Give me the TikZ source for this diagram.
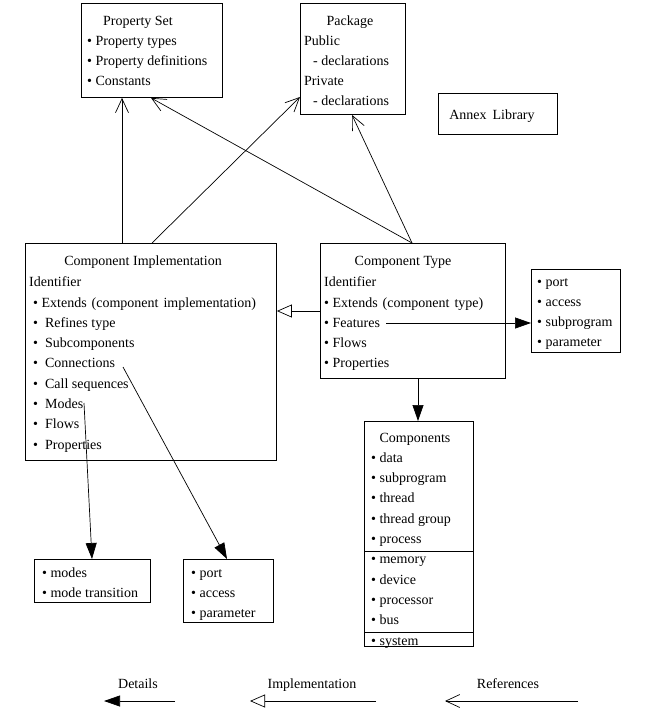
\documentclass[tikz,border=0pt]{standalone}
\usepackage{fontspec}
\setmainfont{Liberation Serif}
\usetikzlibrary{arrows.meta}
\newcommand\bl{\textbullet\ }
\newcommand\bll{\textbullet\hspace{7pt}}
\tikzset{
  box/.style={draw, line width=0.9pt, inner sep=0pt, anchor=north west},
  txt/.style={inner sep=0pt, anchor=base west, font=\fontsize{14}{17}\selectfont},
  ttl/.style={txt, anchor=base},
  ref/.style={-{Straight Barb[length=14pt,width=13pt]}, line width=0.7pt},
  impl/.style={-{Triangle[open,length=15pt,width=13pt]}, line width=0.7pt},
  det/.style={-{Triangle[length=16pt,width=11pt]}, line width=0.7pt}
}
\begin{document}
\begin{tikzpicture}[x=1pt,y=-1pt]
\useasboundingbox (0,0) rectangle (649,720);
% boxes
\node[box, minimum width=141pt, minimum height=94pt] (ps) at (81,3) {};
\node[box, minimum width=105pt, minimum height=111pt] (pkg) at (300,3) {};
\node[box, minimum width=119pt, minimum height=41pt] (annex) at (438,93) {};
\node[box, minimum width=251pt, minimum height=217pt] (ci) at (25,243) {};
\node[box, minimum width=185pt, minimum height=135pt] (ct) at (320,243) {};
\node[box, minimum width=89pt, minimum height=83pt] (feat) at (531,269) {};
\node[box, minimum width=109pt, minimum height=225pt] (comp) at (364,421) {};
\node[box, minimum width=116pt, minimum height=43pt] (modes) at (34,559) {};
\node[box, minimum width=90pt, minimum height=63pt] (conn) at (183,559) {};
\draw[line width=0.9pt] (comp.west |- 0,551) -- (comp.east |- 0,551);
\draw[line width=0.9pt] (comp.west |- 0,632) -- (comp.east |- 0,632);
% Property Set
\node[ttl] (ps-t) at (138,25) {Property Set};
\foreach \t [count=\i] in {Property types, Property definitions, Constants}
  \node[txt] (ps-\i) at (87,{25+\i*20}) {\bl\t};
% Package
\node[ttl] (pkg-t) at (350,25) {Package};
\node[txt] (pkg-1) at (304,45) {Public};
\node[txt] (pkg-2) at (313,65) {- declarations};
\node[txt] (pkg-3) at (304,85) {Private};
\node[txt] (pkg-4) at (313,105) {- declarations};
% Annex
\node[ttl] (annex-t) at (492,119) {Annex\hspace{6pt}Library};
% Component Implementation
\node[ttl] (ci-t) at (143,265) {Component Implementation};
\node[txt] (ci-id) at (29,286) {Identifier};
\node[txt] (ci-1) at (33,307) {\bl Extends\hspace{5pt}(component\hspace{5pt}implementation)};
\foreach \t [count=\i from 2] in {Refines type, Subcomponents, Connections, Call sequences, Modes, Flows, Properties}
  \node[txt] (ci-\i) at (33,{307+(\i-1)*20.3}) {\bll\t};
% Component Type
\node[ttl] (ct-t) at (403,265) {Component Type};
\node[txt] (ct-id) at (324,286) {Identifier};
\node[txt] (ct-1) at (324,307) {\bl Extends\hspace{5pt}(component\hspace{5pt}type)};
\foreach \t [count=\i from 2] in {Features, Flows, Properties}
  \node[txt] (ct-\i) at (324,{307+(\i-1)*20.3}) {\bl\t};
% Features box
\foreach \t [count=\i] in {port, access, subprogram, parameter}
  \node[txt] (feat-\i) at (537,{286+(\i-1)*20.3}) {\bl\t};
% Components
\node[ttl] (comp-t) at (415,442) {Components};
\foreach \t [count=\i] in {data, subprogram, thread, thread group, process, memory, device, processor, bus, system}
  \node[txt] (comp-\i) at (371,{442+\i*20.3}) {\bl\t};
% modes box
\foreach \t [count=\i] in {modes, mode transition}
  \node[txt] (modes-\i) at (42,{577+(\i-1)*20.3}) {\bl\t};
% connections box
\foreach \t [count=\i] in {port, access, parameter}
  \node[txt] (conn-\i) at (191,{577+(\i-1)*20.3}) {\bl\t};
% connectors
\coordinate (featStart) at (386,323);
\coordinate (modesStart) at (84,403);
\coordinate (connStart) at (123,367);
\draw[ref] (122,0 |- ci.north) -- (122,0 |- ps.south);
\draw[ref] (152,0 |- ci.north) -- (pkg.west |- 0,97);
\draw[ref] (412,0 |- ct.north) -- (151,0 |- ps.south);
\draw[ref] (412,0 |- ct.north) -- (352,0 |- pkg.south);
\draw[impl] (ct.west |- 0,311) -- (ci.east |- 0,311);
\draw[det] (featStart) -- (feat.west |- featStart);
\draw[det] (418,0 |- ct.south) -- (418,0 |- comp.north);
\draw[det] (modesStart) -- (92,0 |- modes.north);
\draw[det] (connStart) -- (227,0 |- conn.north);
% legend
\node[ttl] (lg-d) at (138,688) {Details};
\node[ttl] (lg-i) at (312,688) {Implementation};
\node[ttl] (lg-r) at (508,688) {References};
\coordinate (dA) at (175,701); \coordinate (dB) at (104,701);
\coordinate (iA) at (376,701); \coordinate (iB) at (250,701);
\coordinate (rA) at (578,701); \coordinate (rB) at (445,701);
\draw[det] (dA) -- (dB);
\draw[impl] (iA) -- (iB);
\draw[ref] (rA) -- (rB);
\end{tikzpicture}
\end{document}
